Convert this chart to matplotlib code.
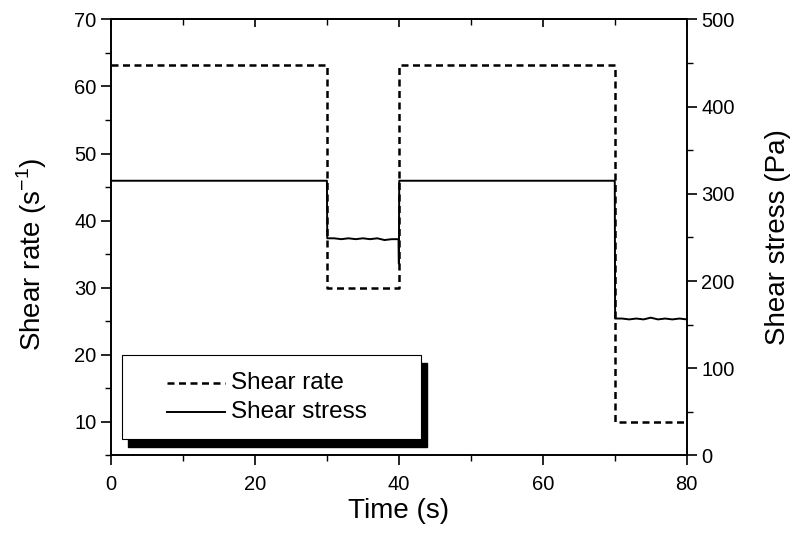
import matplotlib
matplotlib.use("Agg")
import matplotlib.pyplot as plt
from matplotlib.ticker import MultipleLocator
from matplotlib.patches import Rectangle
from matplotlib.lines import Line2D

plt.rcParams['font.family'] = ['Liberation Sans', 'DejaVu Sans']

# Shear rate (left axis), step profile
rate_time = [0, 30, 30, 40, 40, 70, 70, 80]
rate_vals = [63.2, 63.2, 30.0, 30.0, 63.2, 63.2, 10.0, 10.0]

# Shear stress (right axis), with small read-off wiggles
stress_time = [0, 30, 30.05, 31, 32, 33, 34, 35, 36, 37, 38, 39, 39.95, 40, 40.05,
               70, 70.05, 71, 72, 73, 74, 75, 76, 77, 78, 79, 80]
stress_vals = [315, 315, 249, 249, 248, 249, 248, 249, 248, 249, 247, 248, 248, 220, 315,
               315, 157, 157, 156, 157, 156, 158, 156, 157, 156, 157, 156]

DASH = (0, (2.8, 1.8))

fig = plt.figure(figsize=(7.93, 5.39), dpi=100)
ax = fig.add_axes([0.140, 0.155, 0.726, 0.809])
ax2 = ax.twinx()

ax.plot(rate_time, rate_vals, color='black', lw=1.8, ls=DASH)
ax2.plot(stress_time, stress_vals, color='black', lw=1.4)

ax.set_xlim(0, 80)
ax.set_ylim(5, 70)
ax2.set_ylim(0, 500)

ax.xaxis.set_major_locator(MultipleLocator(20))
ax.xaxis.set_minor_locator(MultipleLocator(10))
ax.yaxis.set_major_locator(MultipleLocator(10))
ax.yaxis.set_minor_locator(MultipleLocator(5))
ax2.yaxis.set_major_locator(MultipleLocator(100))
ax2.yaxis.set_minor_locator(MultipleLocator(50))

ax.tick_params(axis='x', which='major', direction='out', length=7, width=1.2,
               labelsize=14.5, pad=7)
ax.tick_params(axis='y', which='major', direction='out', length=7.5, width=1.2,
               labelsize=14.5, pad=3)
ax.tick_params(axis='both', which='minor', direction='out', length=4, width=1.0)
ax2.tick_params(axis='y', which='major', direction='out', length=7.5, width=1.2,
                labelsize=14.5, pad=3)
ax2.tick_params(axis='y', which='minor', direction='out', length=4, width=1.0)

# top ticks point inward
secx = ax.secondary_xaxis('top')
secx.xaxis.set_major_locator(MultipleLocator(20))
secx.xaxis.set_minor_locator(MultipleLocator(10))
secx.tick_params(which='major', direction='in', length=6, width=1.2, labeltop=False)
secx.tick_params(which='minor', direction='in', length=4, width=1.0)
secx.spines['top'].set_linewidth(1.2)

for a in (ax, ax2):
    for s in a.spines.values():
        s.set_linewidth(1.2)

ax.set_xlabel('Time (s)', fontsize=20, labelpad=3)
ax.set_ylabel('Shear rate (s$^{\\mathregular{-1}}$)', fontsize=20)
ax.yaxis.set_label_coords(-0.108, 0.46)
ax2.set_ylabel('Shear stress (Pa)', fontsize=20, labelpad=22)

# Legend box with shadow (axes coordinates)
bx, by, bw, bh = 0.019, 0.038, 0.519, 0.193
shadow = Rectangle((bx + 0.0104, by - 0.018), bw, bh, transform=ax.transAxes,
                   facecolor='black', edgecolor='black', zorder=5)
box = Rectangle((bx, by), bw, bh, transform=ax.transAxes,
                facecolor='white', edgecolor='black', lw=0.8, zorder=6)
ax.add_patch(shadow)
ax.add_patch(box)
ax.add_line(Line2D([0.097, 0.198], [0.166, 0.166], transform=ax.transAxes, color='black',
                   lw=1.8, ls=DASH, zorder=7))
ax.add_line(Line2D([0.097, 0.198], [0.100, 0.100], transform=ax.transAxes, color='black',
                   lw=1.4, zorder=7))
ax.text(0.209, 0.166, 'Shear rate', transform=ax.transAxes, fontsize=17.5,
        va='center', ha='left', zorder=7)
ax.text(0.209, 0.100, 'Shear stress', transform=ax.transAxes, fontsize=17.5,
        va='center', ha='left', zorder=7)

fig.savefig('out.png', dpi=100)
